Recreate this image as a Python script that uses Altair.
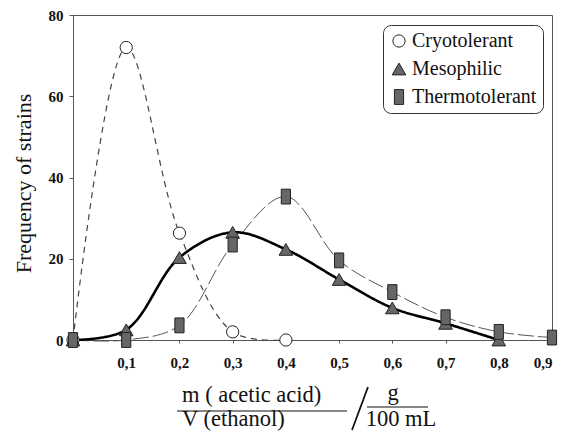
import altair as alt
import pandas as pd

# ---- data ----
series_names = ["Cryotolerant", "Mesophilic", "Thermotolerant"]
x_cryo = [0.0, 0.1, 0.2, 0.3, 0.4]
y_cryo = [0.0, 72.0, 26.3, 2.0, 0.0]
x_meso = [0.0, 0.1, 0.2, 0.3, 0.4, 0.5, 0.6, 0.7, 0.8]
y_meso = [0.0, 2.5, 20.3, 26.5, 22.3, 14.9, 7.9, 4.1, 0.0]
x_thermo = [0.0, 0.1, 0.2, 0.3, 0.4, 0.5, 0.6, 0.7, 0.8, 0.9]
y_thermo = [0.0, 0.0, 3.6, 23.5, 35.3, 19.6, 11.8, 5.6, 2.0, 0.6]
x_ticks = [0.1, 0.2, 0.3, 0.4, 0.5, 0.6, 0.7, 0.8, 0.9]
y_ticks = [0, 20, 40, 60, 80]

rows = []
for name, xs_, ys_ in zip(series_names, [x_cryo, x_meso, x_thermo], [y_cryo, y_meso, y_thermo]):
    for xv, yv in zip(xs_, ys_):
        rows.append({"series": name, "x": xv, "y": yv})
df = pd.DataFrame(rows)

SERIF = "Liberation Serif"
W, H = 479, 325

xs = alt.Scale(domain=[0, 0.9], nice=False, zero=True)
ys = alt.Scale(domain=[0, 80], nice=False)

x_axis = alt.Axis(values=x_ticks, format=".1f",
                  labelExpr="replace(datum.label, '.', ',')",
                  title=None, grid=False, tickSize=3, labelPadding=12,
                  labelFont=SERIF, labelFontSize=15, labelFontWeight="bold",
                  labelColor="#111", domainColor="#555", tickColor="#555")
y_axis = alt.Axis(values=y_ticks, title="Frequency of strains", grid=False,
                  tickSize=4, labelPadding=6,
                  labelFont=SERIF, labelFontSize=15, labelFontWeight="bold",
                  labelColor="#111", domainColor="#555", tickColor="#555",
                  titleFont=SERIF, titleFontSize=22, titleFontWeight="normal",
                  titleColor="#111", titleAngle=-90, titleX=-50, titleY=168,
                  titleAlign="center", titleBaseline="middle")

base = alt.Chart(df)


def line_layer(name, color, dash, width, with_axes=False):
    enc_x = alt.X("x:Q", scale=xs, axis=x_axis) if with_axes else alt.X("x:Q", scale=xs)
    enc_y = alt.Y("y:Q", scale=ys, axis=y_axis) if with_axes else alt.Y("y:Q", scale=ys)
    return base.transform_filter(alt.datum.series == name).mark_line(
        interpolate="catmull-rom", color=color, strokeDash=dash, strokeWidth=width
    ).encode(x=enc_x, y=enc_y)


line_cryo = line_layer("Cryotolerant", "#444444", [6, 5], 1.2, with_axes=True)
line_thermo = line_layer("Thermotolerant", "#555555", [16, 4], 1.0)
line_meso = line_layer("Mesophilic", "#000000", [1, 0], 2.6)

rect_path = "M-0.62,-1L0.62,-1L0.62,1L-0.62,1Z"
leg = alt.Legend(title=None, orient="none", legendX=310, legendY=10)
points = base.mark_point(filled=True, strokeWidth=1,
                         opacity=1, fillOpacity=1, strokeOpacity=1).encode(
    x=alt.X("x:Q", scale=xs),
    y=alt.Y("y:Q", scale=ys),
    shape=alt.Shape("series:N", scale=alt.Scale(domain=series_names,
                    range=["circle", "triangle-up", rect_path]), legend=leg),
    fill=alt.Fill("series:N", scale=alt.Scale(domain=series_names,
                  range=["#ffffff", "#666666", "#666666"]), legend=leg),
    stroke=alt.Stroke("series:N", scale=alt.Scale(domain=series_names,
                      range=["#222222", "#222222", "#222222"]), legend=leg),
    size=alt.Size("series:N", scale=alt.Scale(domain=series_names,
                  range=[150, 220, 250]), legend=leg),
)


# ---- composite x-axis title ----
def txt(s, x, y, align):
    return alt.Chart(pd.DataFrame({"t": [s]})).mark_text(
        font=SERIF, fontSize=22.5, align=align, baseline="alphabetic", color="#111"
    ).encode(text="t:N", x=alt.value(x), y=alt.value(y))


def seg(x1, x2, y1, y2, w):
    return alt.Chart(pd.DataFrame({"t": [0]})).mark_rule(color="#111", strokeWidth=w).encode(
        x=alt.value(x1), x2=alt.value(x2), y=alt.value(y1), y2=alt.value(y2))


title_layers = [
    txt("m ( acetic acid)", 109, 387, "left"),
    seg(104, 274, 396, 396, 1.2),
    txt("V (ethanol)", 109, 411, "left"),
    seg(279, 295, 415, 372, 1.8),
    txt("g", 320, 385, "center"),
    seg(294, 355, 392, 392, 1.2),
    txt("100 mL", 328, 411, "center"),
]

chart = alt.layer(line_cryo, line_thermo, line_meso, points, *title_layers).properties(
    width=W, height=H,
    autosize=alt.AutoSizeParams(type="none"),
    padding={"left": 73, "top": 15, "right": 22, "bottom": 92},
).configure_view(stroke="#555555", strokeWidth=1).configure_legend(
    labelFont=SERIF, labelFontSize=20, labelColor="#111",
    strokeColor="#333333", cornerRadius=8, padding=6, rowPadding=8,
    symbolStrokeWidth=1, labelOffset=3,
    fillColor="white",
)

chart.save("out.html", embed_options={"renderer": "svg", "actions": False})
